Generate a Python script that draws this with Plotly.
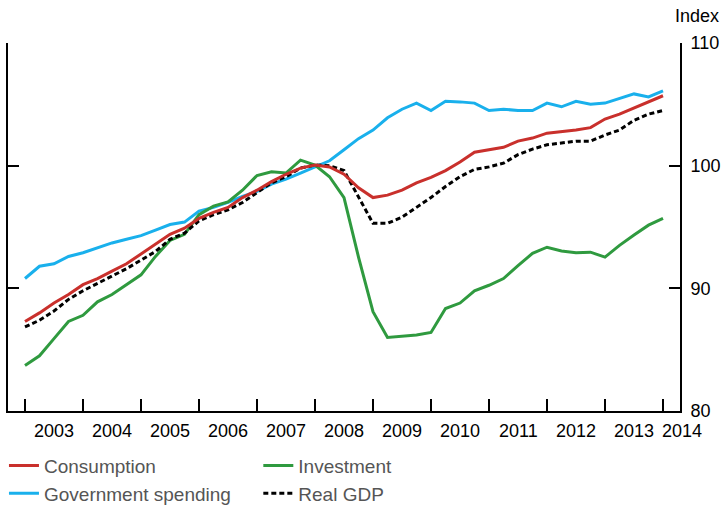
import plotly.graph_objects as go

quarters = [2003 + i / 4 for i in range(45)]

consumption = [87.3, 88.0, 88.8, 89.5, 90.3, 90.8, 91.4, 92.0, 92.8, 93.6,
               94.4, 94.9, 95.7, 96.2, 96.6, 97.4, 98.0, 98.7, 99.3, 99.8,
               100.05, 99.9, 99.3, 98.2, 97.4, 97.6, 98.0, 98.6, 99.05, 99.6,
               100.3, 101.1, 101.3, 101.5, 102.0, 102.25, 102.65, 102.75, 102.9, 103.1,
               103.8, 104.2, 104.7, 105.25, 105.7]

government = [90.8, 91.8, 92.0, 92.6, 92.9, 93.3, 93.7, 94.0, 94.3, 94.75,
              95.2, 95.4, 96.3, 96.6, 97.0, 97.5, 97.9, 98.5, 98.9, 99.4,
              99.9, 100.4, 101.3, 102.2, 102.9, 103.9, 104.6, 105.1, 104.5, 105.25,
              105.2, 105.1, 104.5, 104.6, 104.5, 104.5, 105.1, 104.8, 105.25, 105.0,
              105.1, 105.5, 105.85, 105.6, 106.1]

investment = [83.7, 84.5, 85.9, 87.3, 87.8, 88.9, 89.5, 90.3, 91.1, 92.6,
              93.9, 94.4, 96.0, 96.7, 97.05, 98.0, 99.2, 99.5, 99.4, 100.45,
              100.05, 99.1, 97.4, 92.55, 88.1, 86.0, 86.1, 86.2, 86.4, 88.35,
              88.8, 89.8, 90.25, 90.8, 91.85, 92.85, 93.35, 93.05, 92.9, 92.95,
              92.55, 93.5, 94.35, 95.15, 95.7]

real_gdp = [86.85, 87.4, 88.15, 89.1, 89.8, 90.4, 91.0, 91.6, 92.3, 93.0,
            94.0, 94.5, 95.5, 96.0, 96.4, 97.0, 97.8, 98.6, 99.1, 99.8,
            100.05, 100.0, 99.6, 97.5, 95.3, 95.3, 95.8, 96.6, 97.4, 98.3,
            99.1, 99.7, 99.9, 100.2, 100.9, 101.35, 101.7, 101.85, 102.0, 102.0,
            102.5, 102.9, 103.7, 104.2, 104.5]

year_ticks = list(range(2003, 2015))
year_labels = [str(y) for y in range(2003, 2015)]
y_ticks = [80, 90, 100, 110]

RED = "#c9302c"
GREEN = "#2f9a3f"
BLUE = "#19b0ec"
BLACK = "#000000"

fig = go.Figure()
fig.add_trace(go.Scatter(x=quarters, y=government, mode="lines", name="Government spending",
                         line=dict(color=BLUE, width=3), legend="legend", legendrank=2))
fig.add_trace(go.Scatter(x=quarters, y=investment, mode="lines", name="Investment",
                         line=dict(color=GREEN, width=3), legend="legend2", legendrank=1))
fig.add_trace(go.Scatter(x=quarters, y=real_gdp, mode="lines", name="Real GDP",
                         line=dict(color=BLACK, width=3, dash="5px,3px"), legend="legend2", legendrank=2))
fig.add_trace(go.Scatter(x=quarters, y=consumption, mode="lines", name="Consumption",
                         line=dict(color=RED, width=3), legend="legend", legendrank=1))

PLOT_W = 672.0
annotations = []
for i, lab in enumerate(year_labels):
    if lab != "2014":
        annotations.append(dict(x=year_ticks[i] + 0.5, y=0, xref="x", yref="paper", text=lab,
                                showarrow=False, xanchor="center", yanchor="middle", yshift=-20,
                                font=dict(size=18, color="#000000")))
    else:
        annotations.append(dict(x=(682 - 8) / PLOT_W, y=0, xref="paper", yref="paper", text=lab,
                                showarrow=False, xanchor="center", yanchor="middle", yshift=-20,
                                font=dict(size=18, color="#000000")))
annotations.append(dict(x=(721 - 8) / PLOT_W, y=1.073, xref="paper", yref="paper", text="Index",
                        showarrow=False, xanchor="right", yanchor="middle",
                        font=dict(size=18, color="#000000")))

fig.update_layout(
    width=723, height=506,
    margin=dict(l=8, r=43, t=43, b=95, autoexpand=False),
    paper_bgcolor="white", plot_bgcolor="white",
    font=dict(family="Liberation Sans, Arial, sans-serif", size=18, color="#000000"),
    showlegend=True,
    legend=dict(x=-0.006, y=-0.097, xanchor="left", yanchor="top", orientation="v",
                font=dict(size=19, color="#555555"), bgcolor="rgba(0,0,0,0)",
                traceorder="normal", itemwidth=30, tracegroupgap=0),
    legend2=dict(x=0.3725, y=-0.097, xanchor="left", yanchor="top", orientation="v",
                 font=dict(size=19, color="#555555"), bgcolor="rgba(0,0,0,0)",
                 traceorder="normal", itemwidth=30, tracegroupgap=0),
    annotations=annotations,
    xaxis=dict(range=[2002.707, 2014.293], tickvals=year_ticks, showticklabels=False,
               ticks="inside", ticklen=12, tickwidth=2, tickcolor="#000", automargin=False,
               showline=True, linewidth=2, linecolor="#000", showgrid=False, zeroline=False),
    yaxis=dict(range=[80, 110], tickvals=y_ticks, side="right", ticks="inside", ticklen=11,
               tickwidth=2, tickcolor="#000", showline=True, linewidth=2, linecolor="#000",
               mirror="ticks", showgrid=False, zeroline=False, automargin=False,
               ticklabelstandoff=5, tickfont=dict(size=18, color="#000")),
)

fig.write_html("out.html", post_script="document.body.style.margin='0';",
               config={"displayModeBar": False})
